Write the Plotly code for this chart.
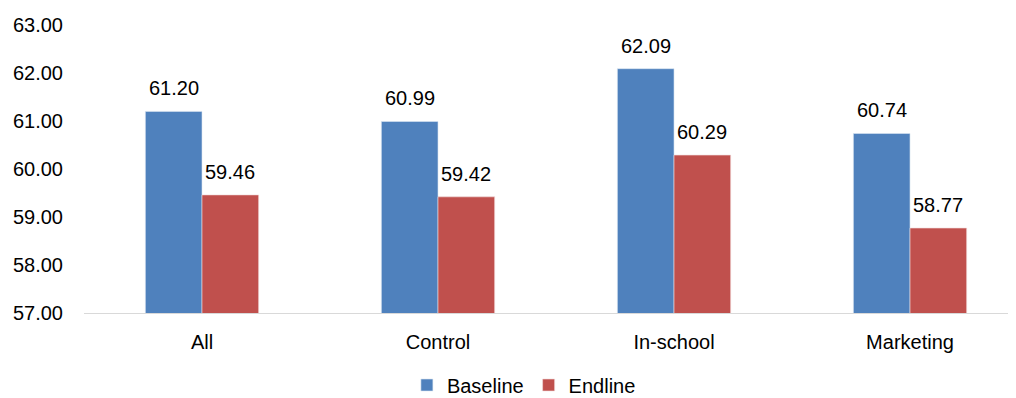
import plotly.graph_objects as go

categories = ["All", "Control", "In-school", "Marketing"]
baseline = [61.20, 60.99, 62.09, 60.74]
endline = [59.46, 59.42, 60.29, 58.77]

FONT = "Liberation Sans, Arial, sans-serif"
fig = go.Figure()
fig.add_trace(go.Bar(name="Baseline", x=categories, y=baseline,
                     marker=dict(color="#4F81BD", line=dict(color="#DCE6F2", width=0.6))))
fig.add_trace(go.Bar(name="Endline", x=categories, y=endline,
                     marker=dict(color="#C0504D", line=dict(color="#F2DCDB", width=0.6))))

for vals, shift in ((baseline, -28), (endline, 28)):
    for c, v in zip(categories, vals):
        fig.add_annotation(x=c, y=v, text=f"{v:.2f}", showarrow=False,
                           xshift=shift, yanchor="bottom", yshift=10,
                           font=dict(family=FONT, size=20, color="#000"))

fig.update_layout(
    width=1008, height=390,
    margin=dict(l=76, r=0, t=17, b=85, autoexpand=False),
    paper_bgcolor="white", plot_bgcolor="white",
    barmode="group", bargap=0.52, bargroupgap=0,
    font=dict(family=FONT, size=20, color="#000"),
    showlegend=True,
    legend=dict(orientation="h", x=0.472, xanchor="center", xref="paper",
                y=-0.25, yanchor="middle", font=dict(size=20), itemwidth=30,
                traceorder="normal"),
)
fig.update_xaxes(range=[-0.5, 3.449], showline=True, linecolor="#D9D9D9", linewidth=1,
                 ticks="", ticklabelstandoff=11, showgrid=False, automargin=False)
fig.update_yaxes(range=[57, 63], tickvals=[57, 58, 59, 60, 61, 62, 63],
                 tickformat=".2f", showline=False, showgrid=False, zeroline=False,
                 ticks="", ticklabelstandoff=20, automargin=False)
fig.write_html("out.html")
